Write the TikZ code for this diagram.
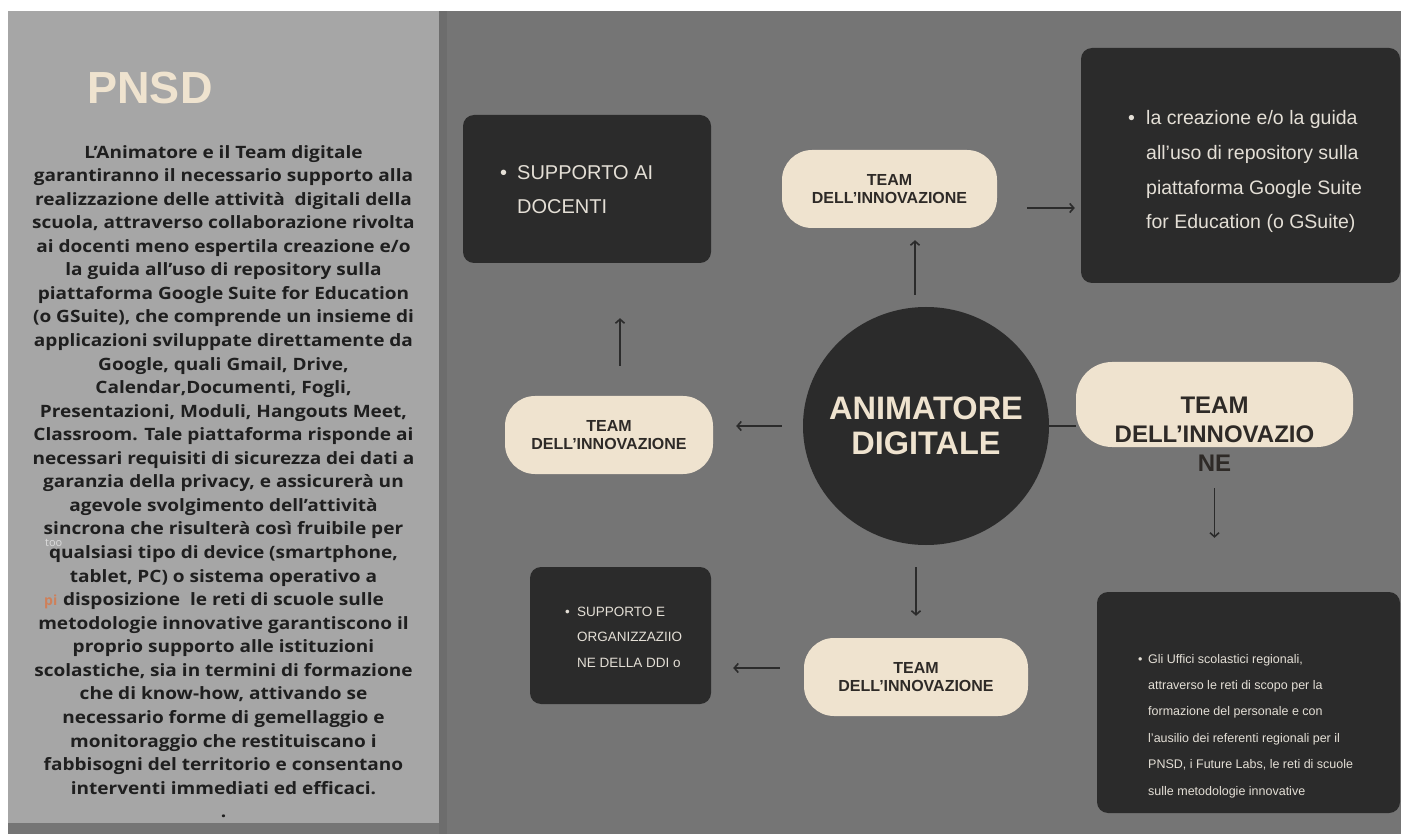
\documentclass[tikz,border=0pt]{standalone}
\usepackage{fontspec}
\setmainfont{Liberation Sans}
\newfontfamily\opensans{Open Sans}
\newfontfamily\panelfont[FakeStretch=1.12]{Open Sans}
\usetikzlibrary{positioning,shapes.geometric,arrows.meta}
\definecolor{panelgray}{HTML}{A6A6A6}
\definecolor{slidegray}{HTML}{757575}
\definecolor{shadowgray}{HTML}{6D6D6D}
\definecolor{boxdark}{HTML}{2B2B2B}
\definecolor{cream}{HTML}{EFE3CF}
\definecolor{inkdark}{HTML}{2E2A27}
\definecolor{boxtext}{HTML}{E4DFD6}
\definecolor{ghostorange}{HTML}{E0703A}

\begin{document}
\begin{tikzpicture}[x=1pt,y=-1pt,
  pill/.style={fill=cream, rounded corners=30pt, minimum height=78pt, inner sep=0pt,
    font=\bfseries\fontsize{16}{17.5}\selectfont, text=inkdark, align=center},
  darkbox/.style={fill=boxdark, rounded corners=11pt, inner sep=0pt},
  boxtxt/.style={text=boxtext, align=left, inner sep=0pt, anchor=base west},
  arr/.style={draw=boxdark, line width=1.6pt, -{Straight Barb[length=4pt,width=9pt]}}
  ]
\useasboundingbox (0,0) rectangle (1401,834);
\fill[white] (0,0) rectangle (1401,834);
\fill[slidegray] (8,11) rectangle (1401,834);
\fill[shadowgray] (439,11) rectangle (447,834);
\fill[panelgray] (8,11) rectangle (439,823);

\node[font=\bfseries\fontsize{45}{45}\selectfont, text=cream] (pnsd) at (150,88) {PNSD};
\node[font=\panelfont\bfseries\fontsize{17}{23.56}\selectfont, align=center, inner sep=0pt,
  anchor=base, text=black!88] (pnsdtext) at (223.5,817.7) {%
  L’Animatore e il Team digitale\\
  garantiranno il necessario supporto alla\\
  realizzazione delle attività\ \ digitali della\\
  scuola, attraverso collaborazione rivolta\\
  ai docenti meno espertila creazione e/o\\
  la guida all’uso di repository sulla\\
  piattaforma Google Suite for Education\\
  (o GSuite), che comprende un insieme di\\
  applicazioni sviluppate direttamente da\\
  Google, quali Gmail, Drive,\\
  Calendar,Documenti, Fogli,\\
  Presentazioni, Moduli, Hangouts Meet,\\
  Classroom. Tale piattaforma risponde ai\\
  necessari requisiti di sicurezza dei dati a\\
  garanzia della privacy, e assicurerà un\\
  agevole svolgimento dell’attività\\
  sincrona che risulterà così fruibile per\\
  qualsiasi tipo di device (smartphone,\\
  tablet, PC) o sistema operativo a\\
  disposizione\ \ le reti di scuole sulle\\
  metodologie innovative garantiscono il\\
  proprio supporto alle istituzioni\\
  scolastiche, sia in termini di formazione\\
  che di know-how, attivando se\\
  necessario forme di gemellaggio e\\
  monitoraggio che restituiscano i\\
  fabbisogni del territorio e consentano\\
  interventi immediati ed efficaci.\\
  .};
\node[text=white, opacity=0.6, font=\opensans\fontsize{11}{11}\selectfont, inner sep=0pt,
  anchor=base west] (ghosttoo) at (45,546) {too};
\node[text=ghostorange, opacity=0.7, font=\opensans\bfseries\fontsize{14}{14}\selectfont,
  inner sep=0pt, anchor=base west] (ghostpi) at (44,605) {pi};

\node[darkbox, minimum width=248pt, minimum height=148pt] (docbox) at (587,189) {};
\node[boxtxt, font=\fontsize{20}{34}\selectfont] (doctext) at (500,214)
  {\makebox[17pt][l]{•}SUPPORTO AI\\\hspace*{17pt}DOCENTI};

\node[darkbox, minimum width=319pt, minimum height=235pt] (gsbox) at (1240.5,165.5) {};
\node[boxtxt, font=\fontsize{19.5}{34.7}\selectfont] (gstext) at (1128,229)
  {\makebox[18pt][l]{•}la creazione e/o la guida\\
   \hspace*{18pt}all’uso di repository sulla\\
   \hspace*{18pt}piattaforma Google Suite\\
   \hspace*{18pt}for Education (o GSuite)};

\node[darkbox, minimum width=181pt, minimum height=137pt] (ddibox) at (620.5,635.5) {};
\node[boxtxt, font=\fontsize{13.5}{25.5}\selectfont] (dditext) at (565,667)
  {\makebox[12pt][l]{•}SUPPORTO E\\
   \hspace*{12pt}ORGANIZZAZIIO\\
   \hspace*{12pt}NE DELLA DDI o};

\node[darkbox, minimum width=303pt, minimum height=221pt] (uffbox) at (1248.5,702.5) {};
\node[boxtxt, font=\fontsize{12.5}{26.4}\selectfont] (ufftext) at (1138,795)
  {\makebox[10pt][l]{•}Gli Uffici scolastici regionali,\\
   \hspace*{10pt}attraverso le reti di scopo per la\\
   \hspace*{10pt}formazione del personale e con\\
   \hspace*{10pt}l’ausilio dei referenti regionali per il\\
   \hspace*{10pt}PNSD, i Future Labs, le reti di scuole\\
   \hspace*{10pt}sulle metodologie innovative};

\node[ellipse, fill=boxdark, minimum width=246pt, minimum height=238pt, inner sep=0pt]
  (anim) at (926,426) {};
\node[text=cream, align=center, inner sep=0pt, font=\bfseries\fontsize{32.5}{35}\selectfont]
  (animtext) at (926,426) {ANIMATORE\\DIGITALE};

\node[pill, minimum width=215pt] (teamtop) at (889.5,189) {TEAM\\DELL'INNOVAZIONE};
\node[pill, minimum width=208pt] (teamleft) at (609,435) {TEAM\\DELL'INNOVAZIONE};
\node[pill, minimum width=224pt] (teambottom) at (916,677) {TEAM\\DELL'INNOVAZIONE};
\node[pill, minimum width=277pt, minimum height=85pt, rounded corners=36pt] (teamright)
  at (1214.5,404.5) {};
\node[text=inkdark, align=center, inner sep=0pt, font=\bfseries\fontsize{24}{29}\selectfont]
  (teamrighttext) at (1214.5,434) {TEAM\\DELL'INNOVAZIO\\NE};

\draw[arr, shorten <=12pt, shorten >=12pt] ([xshift=-11pt]anim.north) -- ([xshift=-11pt]anim.north |- teamtop.south);
\draw[arr, shorten <=30pt, shorten >=6pt] ([yshift=-19pt]teamtop.east) -- ([yshift=-19pt]teamtop.east -| gsbox.west);
\draw[arr, shorten <=21pt, shorten >=23pt] (anim.west) -- (anim.west -| teamleft.east);
\draw[arr, shorten <=30pt, shorten >=55pt] ([xshift=11pt]teamleft.north) -- ([xshift=11pt]teamleft.north |- docbox.south);
\draw[arr, shorten <=22pt, shorten >=22pt] (anim.south -| teambottom.north) -- (teambottom.north);
\draw[arr, shorten <=24pt, shorten >=22pt] ([yshift=9pt]teambottom.west) -- ([yshift=9pt]teambottom.west -| ddibox.east);
\draw[draw=boxdark, line width=1.6pt] (anim.east) -- (anim.east -| teamright.west);
\draw[arr, shorten <=41pt, shorten >=54pt] (teamright.south) -- (teamright.south |- uffbox.north);
\end{tikzpicture}
\end{document}
